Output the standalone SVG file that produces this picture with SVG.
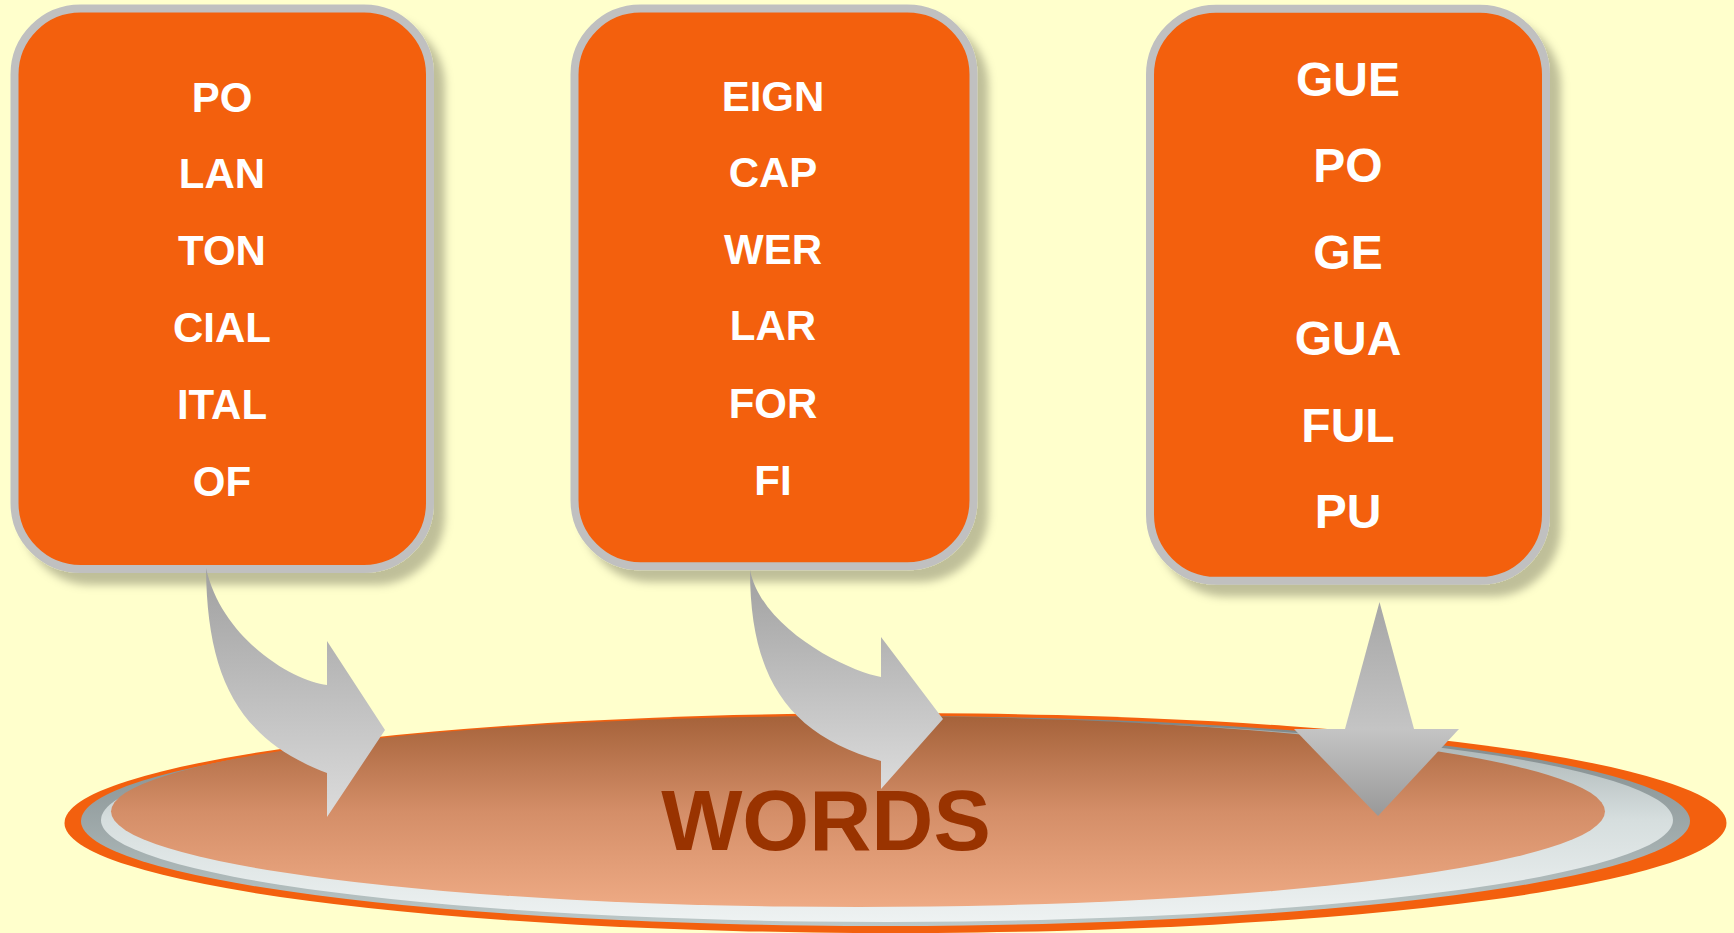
<svg xmlns="http://www.w3.org/2000/svg" width="1734" height="933" viewBox="0 0 1734 933">
<defs>
<style>
.box{fill:#F3600E;stroke:#C0C0C0;stroke-width:8;filter:url(#sh)}
.t{font-family:"Liberation Sans",Arial,sans-serif;font-weight:bold;fill:#FFFFFF;text-anchor:middle}
.t1{font-size:42px}
.t3{font-size:48px}
.words{font-family:"Liberation Sans",Arial,sans-serif;font-weight:bold;font-size:86px;fill:#993300;text-anchor:middle}
</style>
<filter id="sh" x="-10%" y="-10%" width="130%" height="130%">
<feDropShadow dx="11" dy="12" stdDeviation="4.5" flood-color="#000" flood-opacity="0.25"/>
</filter>
<linearGradient id="gArrow" x1="0" y1="0" x2="0" y2="1">
<stop offset="0" stop-color="#A0A0A0"/>
<stop offset="1" stop-color="#DCDCDC"/>
</linearGradient>
<linearGradient id="gShaft" x1="0" y1="0" x2="0" y2="1">
<stop offset="0" stop-color="#A6A6A6"/>
<stop offset="1" stop-color="#C4C4C4"/>
</linearGradient>
<linearGradient id="gHead" x1="0" y1="0" x2="0" y2="1">
<stop offset="0" stop-color="#C4C4C4"/>
<stop offset="1" stop-color="#999999"/>
</linearGradient>
<linearGradient id="gDark" x1="0" y1="0" x2="0" y2="1">
<stop offset="0" stop-color="#7C8587"/>
<stop offset="1" stop-color="#BCC8C8"/>
</linearGradient>
<linearGradient id="gLight" x1="0" y1="0" x2="0" y2="1">
<stop offset="0" stop-color="#9FA9AA"/>
<stop offset="0.5" stop-color="#D6DEDE"/>
<stop offset="1" stop-color="#EEF2F2"/>
</linearGradient>
<linearGradient id="gPeach" x1="0" y1="0" x2="0" y2="1">
<stop offset="0" stop-color="#A5623A"/>
<stop offset="0.5" stop-color="#D48E68"/>
<stop offset="1" stop-color="#EEAA84"/>
</linearGradient>
</defs>
<rect width="1734" height="933" fill="#FFFFCC"/>

<g id="words">
<ellipse cx="895.5" cy="823" rx="831" ry="110" fill="#F3600E"/>
<ellipse cx="885.5" cy="821" rx="804.5" ry="105" fill="url(#gDark)"/>
<ellipse cx="887" cy="820" rx="786" ry="102" fill="url(#gLight)"/>
<ellipse cx="858" cy="811.5" rx="747" ry="95.5" fill="url(#gPeach)"/>
<text class="words" x="826" y="850">WORDS</text>
</g>

<g id="box1">
<rect class="box" x="14.5" y="8.6" width="415.5" height="560.4" rx="66" ry="66"/>
<text class="t t1" x="222" y="111.5">PO</text>
<text class="t t1" x="222" y="188.4">LAN</text>
<text class="t t1" x="222" y="265.3">TON</text>
<text class="t t1" x="222" y="342.2">CIAL</text>
<text class="t t1" x="222" y="419.1">ITAL</text>
<text class="t t1" x="222" y="496">OF</text>
</g>

<g id="box2">
<rect class="box" x="574.5" y="8.6" width="399" height="557.6" rx="66" ry="66"/>
<text class="t t1" x="773" y="111">EIGN</text>
<text class="t t1" x="773" y="186.8">CAP</text>
<text class="t t1" x="773" y="263.6">WER</text>
<text class="t t1" x="773" y="340.4">LAR</text>
<text class="t t1" x="773" y="417.6">FOR</text>
<text class="t t1" x="773" y="495">FI</text>
</g>

<g id="box3">
<rect class="box" x="1150" y="8.8" width="396" height="572" rx="66" ry="66"/>
<text class="t t3" x="1348" y="96">GUE</text>
<text class="t t3" x="1348" y="182.4">PO</text>
<text class="t t3" x="1348" y="268.8">GE</text>
<text class="t t3" x="1348" y="355.2">GUA</text>
<text class="t t3" x="1348" y="441.6">FUL</text>
<text class="t t3" x="1348" y="528">PU</text>
</g>

<g id="connectors">
<path d="M206,568 C207,680 240,740 327,773 L327,817 L385,730 L327,641 L327,685 C295,682 222,640 206,568 Z" fill="url(#gArrow)"/>
<path d="M750,570 C750,680 790,735 881,761 L881,789 L943,719 L881,637 L881,677 C850,672 762,630 750,570 Z" fill="url(#gArrow)"/>
<polygon points="1379.5,602 1414,729 1345,729" fill="url(#gShaft)"/>
<polygon points="1294,729 1459,729 1378,816" fill="url(#gHead)"/>
</g>
</svg>
